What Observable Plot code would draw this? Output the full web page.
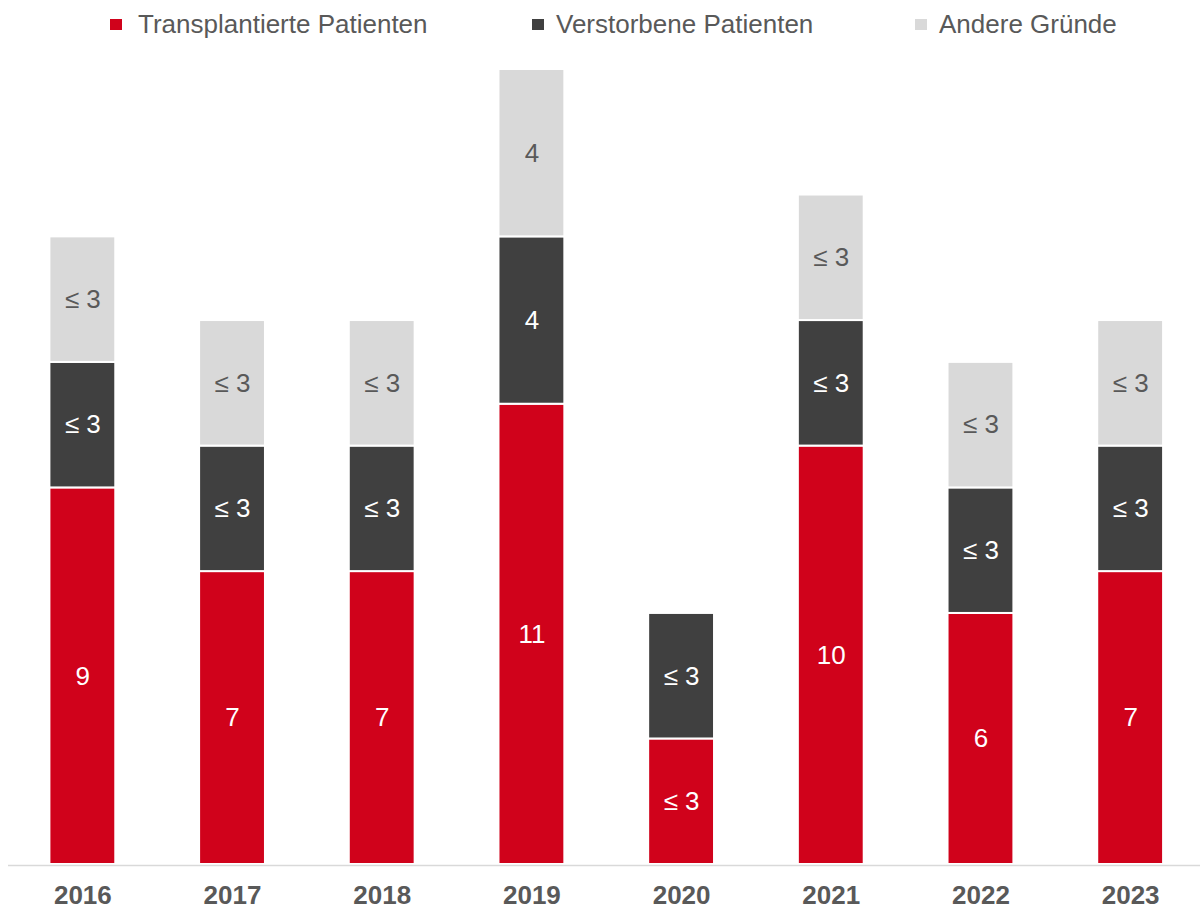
<!DOCTYPE html>
<html>
<head>
<meta charset="utf-8">
<script src="https://cdn.jsdelivr.net/npm/d3@7"></script>
<script src="https://cdn.jsdelivr.net/npm/@observablehq/plot@0.6"></script>
<style>
  html, body { margin: 0; padding: 0; background: #fff; overflow: hidden; }
  #wrap { position: relative; width: 1200px; height: 908px; font-family: "Liberation Sans", Arial, sans-serif; }
  .lt { position: absolute; top: 11px; height: 26px; line-height: 26px; font-size: 26px; color: #595959; white-space: nowrap; }
  .sw { position: absolute; top: 19px; width: 12px; height: 11px; }
  #chart { position: absolute; left: 0; top: 50px; }
</style>
</head>
<body>
<div id="wrap">
  <div id="legend"></div>
  <div id="chart"></div>
</div>
<script>
// ---- data ----
const years = ["2016", "2017", "2018", "2019", "2020", "2021", "2022", "2023"];
const seriesNames = ["Transplantierte Patienten", "Verstorbene Patienten", "Andere Gründe"];
const transplantiert = [9, 7, 7, 11, 3, 10, 6, 7];
const transplantiertLabels = ["9", "7", "7", "11", "≤ 3", "10", "6", "7"];
const verstorben = [3, 3, 3, 4, 3, 3, 3, 3];
const verstorbenLabels = ["≤ 3", "≤ 3", "≤ 3", "4", "≤ 3", "≤ 3", "≤ 3", "≤ 3"];
const andere = [3, 3, 3, 4, 0, 3, 3, 3];
const andereLabels = ["≤ 3", "≤ 3", "≤ 3", "4", "", "≤ 3", "≤ 3", "≤ 3"];

// ---- styles ----
const seriesColors = ["#D0021B", "#404040", "#D9D9D9"];
const labelColors = ["#FFFFFF", "#FFFFFF", "#595959"];
const legendSwatchLeft = [110, 532, 915];
const legendTextLeft = [138, 556, 939];

const values = [transplantiert, verstorben, andere];
const labels = [transplantiertLabels, verstorbenLabels, andereLabels];
const rows = [];
seriesNames.forEach((s, si) => {
  years.forEach((y, yi) => {
    if (values[si][yi] > 0) {
      rows.push({year: y, series: s, value: values[si][yi], label: labels[si][yi],
                 fill: seriesColors[si], textFill: labelColors[si]});
    }
  });
});

// legend
const legend = document.getElementById("legend");
seriesNames.forEach((s, i) => {
  const sw = document.createElement("span");
  sw.className = "sw";
  sw.style.left = legendSwatchLeft[i] + "px";
  sw.style.background = seriesColors[i];
  legend.appendChild(sw);
  const t = document.createElement("span");
  t.className = "lt";
  t.style.left = legendTextLeft[i] + "px";
  t.textContent = s;
  legend.appendChild(t);
});

const plot = Plot.plot({
  width: 1200,
  height: 858,
  marginTop: 19,
  marginBottom: 44,
  marginLeft: 8,
  marginRight: 0,
  style: {fontFamily: "'Liberation Sans', Arial, sans-serif", background: "transparent"},
  x: {domain: years, range: [7.5, 1205], paddingInner: 0.56, paddingOuter: 0.28, round: false, label: null},
  y: {domain: [0, 19], axis: null},
  color: {type: "identity"},
  marks: [
    Plot.barY(rows, Plot.stackY({x: "year", y: "value", z: "series", fill: "fill", stroke: "white", strokeWidth: 2})),
    Plot.ruleY([0], {stroke: "#D9D9D9", strokeWidth: 1.5, dy: 1}),
    Plot.text(rows, Plot.stackY({x: "year", y: "value", z: "series", text: "label", fill: "textFill", fontSize: 26})),
    Plot.axisX({tickSize: 0, tickPadding: 21, fontSize: 26, fontWeight: "bold", fill: "#595959", label: null})
  ]
});
document.getElementById("chart").appendChild(plot);
</script>
</body>
</html>
